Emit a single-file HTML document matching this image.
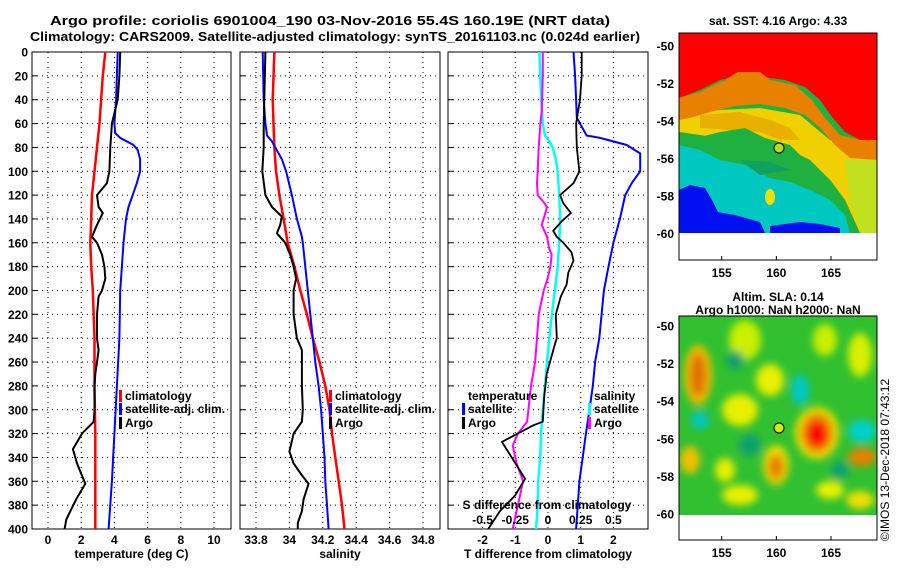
<!DOCTYPE html>
<html><head><meta charset="utf-8"><style>
html,body{margin:0;padding:0;background:#fff;}
svg{display:block;font-family:"Liberation Sans",sans-serif;font-weight:bold;}
</style></head><body>
<svg id="c" width="900" height="580" viewBox="0 0 900 580" xmlns="http://www.w3.org/2000/svg">
<defs>
<filter id="blur" x="-50%" y="-50%" width="200%" height="200%"><feGaussianBlur stdDeviation="4"/></filter>
<clipPath id="sstclip"><rect x="679" y="33" width="198" height="200"/></clipPath>
<clipPath id="slaclip"><rect x="679" y="316" width="198" height="199"/></clipPath>
</defs>
<text x="330" y="25" text-anchor="middle" font-size="13" textLength="560" lengthAdjust="spacingAndGlyphs">Argo profile: coriolis 6901004_190 03-Nov-2016 55.4S 160.19E (NRT data)</text>
<text x="335" y="41" text-anchor="middle" font-size="13" textLength="610" lengthAdjust="spacingAndGlyphs">Climatology: CARS2009. Satellite-adjusted climatology: synTS_20161103.nc (0.024d earlier)</text>

<!-- SST map -->
<g>
<text x="778" y="25" text-anchor="middle" font-size="12">sat. SST: 4.16 Argo: 4.33</text>
<g clip-path="url(#sstclip)">
<rect x="679" y="33" width="198" height="200" fill="#20b040"/>
<polygon points="679,115 720,110 760,108 800,115 830,140 877,150 877,233 860,233 845,200 830,180 810,160 790,150 770,140 745,135 720,138 700,135 679,132" fill="#f0d000"/>
<polygon points="700,115 740,112 770,120 790,128 800,140 780,140 760,132 730,130 700,128" fill="#e8b000"/>
<polygon points="679,132 700,137 720,132 745,128 765,138 790,145 805,160 830,180 845,200 860,233 679,233" fill="#20b040"/>
<polygon points="679,145 700,150 720,160 745,165 770,178 790,182 810,190 830,200 845,215 850,233 679,233" fill="#00c8c0"/>
<polygon points="740,160 770,162 790,170 760,175" fill="#10a060"/>
<polygon points="679,190 690,185 705,188 712,200 718,212 735,215 760,222 765,233 679,233" fill="#0010f0"/>
<polygon points="770,226 800,222 820,224 840,228 840,233 770,233" fill="#0010f0"/>
<polygon points="845,160 877,160 877,233 860,233 850,200" fill="#c0e020"/>
<polygon points="679,98 700,92 720,82 745,76 770,80 795,85 812,100 825,118 840,135 860,140 877,140 877,160 850,158 835,145 820,128 805,115 785,108 760,104 735,106 710,112 690,118 679,120" fill="#e88000"/>
<polygon points="679,33 877,33 877,140 860,140 845,132 832,117 820,100 805,87 785,80 770,78 755,76 740,75 720,80 700,90 679,98" fill="#ff0000"/>
<polygon points="725,80 738,72 760,72 770,80 745,84" fill="#e88000"/>
<ellipse cx="770" cy="197" rx="5" ry="8" fill="#f0e000"/>
</g>
<circle cx="779" cy="148" r="5" fill="#b0e020" stroke="#000" stroke-width="1"/>
<rect x="679" y="33" width="198" height="227" fill="none" stroke="#000" stroke-width="1"/>
</g>

<!-- SLA map -->
<g>
<text x="778" y="301" text-anchor="middle" font-size="12">Altim. SLA: 0.14</text>
<text x="778" y="314" text-anchor="middle" font-size="12">Argo h1000: NaN h2000: NaN</text>
<g clip-path="url(#slaclip)">
<rect x="679" y="316" width="198" height="199" fill="#30c030"/>
<g filter="url(#blur)">
<ellipse cx="745" cy="340" rx="16" ry="20" fill="#c8f000"/>
<ellipse cx="825" cy="340" rx="12" ry="16" fill="#c8f000"/>
<ellipse cx="860" cy="355" rx="12" ry="22" fill="#d8f000"/>
<ellipse cx="698" cy="375" rx="14" ry="30" fill="#f0c000"/>
<ellipse cx="698" cy="375" rx="8" ry="22" fill="#e07000"/>
<ellipse cx="770" cy="380" rx="14" ry="16" fill="#e8f000"/>
<ellipse cx="740" cy="410" rx="18" ry="16" fill="#e8f000"/>
<ellipse cx="817" cy="433" rx="22" ry="26" fill="#f0e000"/>
<ellipse cx="817" cy="433" rx="16" ry="20" fill="#e88000"/>
<ellipse cx="817" cy="434" rx="10" ry="13" fill="#ff0000"/>
<ellipse cx="862" cy="431" rx="14" ry="11" fill="#00d0d0"/>
<ellipse cx="800" cy="390" rx="9" ry="15" fill="#00c8c8"/>
<ellipse cx="700" cy="420" rx="9" ry="9" fill="#00c8c0"/>
<ellipse cx="735" cy="360" rx="9" ry="9" fill="#10a070"/>
<ellipse cx="776" cy="465" rx="13" ry="20" fill="#f0e000"/>
<ellipse cx="776" cy="467" rx="8" ry="13" fill="#e88000"/>
<ellipse cx="862" cy="457" rx="14" ry="9" fill="#e88000"/>
<ellipse cx="690" cy="460" rx="10" ry="14" fill="#f0c000"/>
<ellipse cx="725" cy="470" rx="10" ry="12" fill="#e8f000"/>
<ellipse cx="740" cy="495" rx="18" ry="10" fill="#e8f000"/>
<ellipse cx="830" cy="490" rx="14" ry="9" fill="#e8f000"/>
<ellipse cx="860" cy="500" rx="14" ry="9" fill="#f0e000"/>
<ellipse cx="840" cy="470" rx="9" ry="9" fill="#10a070"/>
<ellipse cx="750" cy="445" rx="11" ry="11" fill="#10a070"/>
</g>
</g>
<circle cx="779" cy="428" r="5" fill="#d0f000" stroke="#000" stroke-width="1"/>
<rect x="679" y="316" width="198" height="224" fill="none" stroke="#000" stroke-width="1"/>
</g>
<text transform="translate(889,460) rotate(-90)" text-anchor="middle" font-size="12" font-weight="normal">©IMOS 13-Dec-2018 07:43:12</text>
<g id="plots"></g>
</svg>
<script>
// depth axis data
const depthTicks = [0,20,40,60,80,100,120,140,160,180,200,220,240,260,280,300,320,340,360,380,400];
// Temperature panel
const tempTicks = [0,2,4,6,8,10];
const argoTempDepth = [0,20,40,60,80,100,110,120,130,135,145,155,160,170,180,190,200,205,220,240,250,260,270,280,300,310,320,333,345,362,375,385,392,400];
const argoTemp = [4.35,4.3,4.2,3.85,3.75,3.7,3.55,2.95,3.05,3.3,2.95,2.65,2.95,3.25,3.4,3.45,3.25,3.05,2.95,2.95,3.05,2.95,2.85,2.8,2.8,2.75,2.05,1.5,1.75,2.25,1.7,1.35,1.1,1.0];
const climTempDepth = [0,20,40,60,80,100,120,140,160,180,200,240,280,320,400];
const climTemp = [3.45,3.3,3.2,3.1,2.95,2.8,2.65,2.6,2.55,2.6,2.7,2.8,2.8,2.85,2.85];
const satTempDepth = [0,20,40,60,68,72,78,82,90,100,110,120,130,140,160,180,200,240,280,320,360,400];
const satTemp = [4.2,4.15,4.1,4.0,4.05,4.35,5.15,5.4,5.55,5.55,5.35,5.1,4.85,4.7,4.55,4.45,4.35,4.3,4.15,4.0,3.85,3.65];
// Salinity panel
const salTicks = [33.8,34,34.2,34.4,34.6,34.8];
const salTickLabels = ["33.8","34","34.2","34.4","34.6","34.8"];
const argoSalDepth = [0,60,80,100,120,130,138,145,152,160,170,180,190,200,220,240,250,260,280,300,310,320,335,345,355,362,375,385,395,400];
const argoSal = [33.856,33.846,33.846,33.838,33.856,33.896,33.955,33.945,33.925,33.975,34.005,34.025,34.04,34.025,34.025,34.045,34.075,34.075,34.075,34.08,34.075,34.025,34.0,34.025,34.075,34.115,34.085,34.075,34.05,34.05];
const climSalDepth = [0,40,60,80,100,120,140,160,180,200,220,240,260,280,300,320,340,360,380,400];
const climSal = [33.91,33.9,33.905,33.91,33.92,33.94,33.965,33.99,34.03,34.065,34.105,34.14,34.18,34.215,34.24,34.255,34.275,34.295,34.315,34.33];
const satSalDepth = [0,40,60,70,75,80,90,100,120,140,155,160,180,200,220,240,260,280,300,320,340,360,380,400];
const satSal = [33.84,33.846,33.856,33.866,33.896,33.915,33.955,33.98,34.015,34.045,34.075,34.08,34.095,34.11,34.125,34.14,34.155,34.175,34.19,34.2,34.21,34.215,34.225,34.235];
// Difference panel
const tdiffTicks = [-2,-1,0,1,2];
const sdiffTicks = [-0.5,-0.25,0,0.25,0.5];
const sdiffTickLabels = ["-0.5","-0.25","0","0.25","0.5"];
const argoTdDepth = [0,20,40,60,80,100,110,120,127,135,142,150,155,160,168,175,185,195,205,220,240,245,255,270,290,310,313,327,340,358,372,385,400];
const argoTd = [1.03,1.03,0.98,0.86,0.88,0.96,0.78,0.37,0.47,0.7,0.42,0.16,0.27,0.47,0.72,0.78,0.62,0.57,0.39,0.24,0.27,0.21,0.11,-0.04,-0.12,-0.16,-0.45,-1.41,-1.11,-0.7,-1.01,-1.47,-1.83];
const satTdDepth = [0,20,40,55,65,70,72,78,85,100,110,120,140,160,180,200,220,240,260,280,300,320,340,360,380,400];
const satTd = [0.78,0.83,0.86,0.88,1.08,1.18,1.59,2.41,2.82,2.82,2.56,2.36,2.2,2.0,1.85,1.71,1.64,1.57,1.44,1.37,1.27,1.16,1.06,0.96,0.91,0.86];
const satSdDepth = [0,40,60,70,75,80,90,100,120,140,160,180,200,220,240,260,280,300,320,340,360,380,400];
const satSd = [-0.066,-0.053,-0.04,-0.023,0.01,0.036,0.06,0.074,0.086,0.094,0.086,0.074,0.053,0.03,0.01,-0.008,-0.023,-0.04,-0.053,-0.06,-0.074,-0.079,-0.091];
const argoSdDepth = [0,20,40,50,60,80,100,110,120,125,130,138,145,155,165,170,180,190,200,220,240,260,280,300,310,320,330,345,360,375,400];
const argoSd = [-0.04,-0.04,-0.045,-0.048,-0.058,-0.071,-0.079,-0.084,-0.079,-0.04,-0.008,-0.028,-0.048,-0.008,0.01,0.028,0.018,-0.003,-0.033,-0.071,-0.084,-0.099,-0.13,-0.15,-0.16,-0.23,-0.27,-0.24,-0.19,-0.22,-0.27];
// Map ticks
const lonTicks = [155,160,165];
const latTicks = [-50,-52,-54,-56,-58,-60];

const NS = "http://www.w3.org/2000/svg";
const root = document.getElementById('plots');
function el(tag, attrs, parent, txt){
  const e = document.createElementNS(NS, tag);
  for (const k in attrs) e.setAttribute(k, attrs[k]);
  if (txt !== undefined) e.textContent = txt;
  (parent||root).appendChild(e);
  return e;
}
const yTop = 52, yBot = 529;
function yD(d){ return yTop + d/400*(yBot-yTop); }
function lin(d0,d1,r0,r1){ return v => r0 + (v-d0)/(d1-d0)*(r1-r0); }

function panel(name, x0, x1, xs, ticks, labels, title, showDepth){
  const g = el('g', {});
  
  
  depthTicks.forEach(d => {
    const y = yD(d);
    const gl = el('line', {x1:x0, x2:x1, y1:y, y2:y, stroke:'#000', 'stroke-width':1, 'stroke-dasharray':'1,4'}, g);
    
    
    const tl = el('line', {x1:x0, x2:x0+5, y1:y, y2:y, stroke:'#000'}, g);
    
    
    if (showDepth){
      const t = el('text', {x:28, y:y+4.5, 'text-anchor':'end', 'font-size':12}, g, String(d));
      
      
    }
  });
  ticks.forEach((v,i) => {
    const x = xs(v);
    const gl = el('line', {x1:x, x2:x, y1:yTop, y2:yBot, stroke:'#000', 'stroke-width':1, 'stroke-dasharray':'1,4'}, g);
    
    
    if (labels){
      const t = el('text', {x:x, y:544, 'text-anchor':'middle', 'font-size':12}, g, labels[i]);
      
      
    }
  });
  const fr = el('rect', {x:x0, y:yTop, width:x1-x0, height:yBot-yTop, fill:'none', stroke:'#000', 'stroke-width':1}, g);
  
  
  const at = el('text', {x:(x0+x1)/2, y:558, 'text-anchor':'middle', 'font-size':12}, g, title);
  
  
  return g;
}
function series(g, name, depths, vals, xs, color, w){
  const pts = depths.map((d,i) => xs(vals[i]).toFixed(1)+','+yD(d).toFixed(1)).join(' ');
  const p = el('polyline', {points:pts, fill:'none', stroke:color, 'stroke-width':w, 'stroke-linejoin':'round'}, g);
  
  
}
function legend(g, x, y, color, label){
  const r = el('rect', {x:x-6, y:y-10, width:3, height:12, fill:color}, g);
  
  
  const t = el('text', {x:x, y:y, 'font-size':12}, g, label);
  
  
}

// Panel 1
const xT = lin(0,10,48,214);
const g1 = panel('temperature-panel', 32, 231, xT, tempTicks, tempTicks.map(String), 'temperature (deg C)', true);
series(g1,'climatology-temperature-line',climTempDepth,climTemp,xT,'#f00',2.5);
series(g1,'satellite-temperature-line',satTempDepth,satTemp,xT,'#00f',2);
series(g1,'argo-temperature-line',argoTempDepth,argoTemp,xT,'#000',2);
legend(g1,125,400,'#f00','climatology');
legend(g1,125,413,'#00f','satellite-adj. clim.');
legend(g1,125,427,'#000','Argo');

// Panel 2
const xS = lin(33.8,34.8,256,423);
const g2 = panel('salinity-panel', 240, 440, xS, salTicks, salTickLabels, 'salinity', false);
series(g2,'climatology-salinity-line',climSalDepth,climSal,xS,'#f00',2.5);
series(g2,'satellite-salinity-line',satSalDepth,satSal,xS,'#00f',2);
series(g2,'argo-salinity-line',argoSalDepth,argoSal,xS,'#000',2);
legend(g2,335,400,'#f00','climatology');
legend(g2,335,413,'#00f','satellite-adj. clim.');
legend(g2,335,427,'#000','Argo');

// Panel 3
const xTd = lin(0,2,548,613.4);
const xSd = lin(0,0.5,548,613.4);
const g3 = panel('difference-panel', 448, 648, xTd, tdiffTicks, tdiffTicks.map(String), 'T difference from climatology', false);
series(g3,'satellite-s-diff-line',satSdDepth,satSd,xSd,'#0ff',2.5);
series(g3,'argo-s-diff-line',argoSdDepth,argoSd,xSd,'#f0f',2);
series(g3,'satellite-t-diff-line',satTdDepth,satTd,xTd,'#00f',2);
series(g3,'argo-t-diff-line',argoTdDepth,argoTd,xTd,'#000',1.8);
const lt = el('text', {x:468, y:400, 'font-size':12}, g3, 'temperature');


legend(g3,468,413,'#00f','satellite');
legend(g3,468,427,'#000','Argo');
const ls = el('text', {x:594, y:400, 'font-size':12}, g3, 'salinity');


legend(g3,594,413,'#0ff','satellite');
legend(g3,594,427,'#f0f','Argo');
const st = el('text', {x:547, y:509, 'text-anchor':'middle', 'font-size':12}, g3, 'S difference from climatology');


sdiffTicks.forEach((v,i) => {
  const t = el('text', {x:xSd(v), y:524, 'text-anchor':'middle', 'font-size':12}, g3, sdiffTickLabels[i]);
  
  
});

// Map axes
function mapAxes(name, latY0, latY1, boxTop, boxBot, labY){
  const g = el('g', {});
  
  
  const xl = lin(155,165,721.7,831);
  const yl = lin(-50,-60,latY0,latY1);
  lonTicks.forEach(v => {
    const t = el('text', {x:xl(v), y:labY, 'text-anchor':'middle', 'font-size':12}, g, String(v));
    
    
    const k = el('line', {x1:xl(v), x2:xl(v), y1:boxBot, y2:boxBot-4, stroke:'#000'}, g);
    
    
  });
  latTicks.forEach(v => {
    const t = el('text', {x:674, y:yl(v)+4.5, 'text-anchor':'end', 'font-size':12}, g, String(v));
    
    
  });
}
mapAxes('sst-map-axes', 46, 233.3, 33, 260, 277);
mapAxes('sla-map-axes', 326, 514, 316, 540, 557);
</script>
</body></html>
